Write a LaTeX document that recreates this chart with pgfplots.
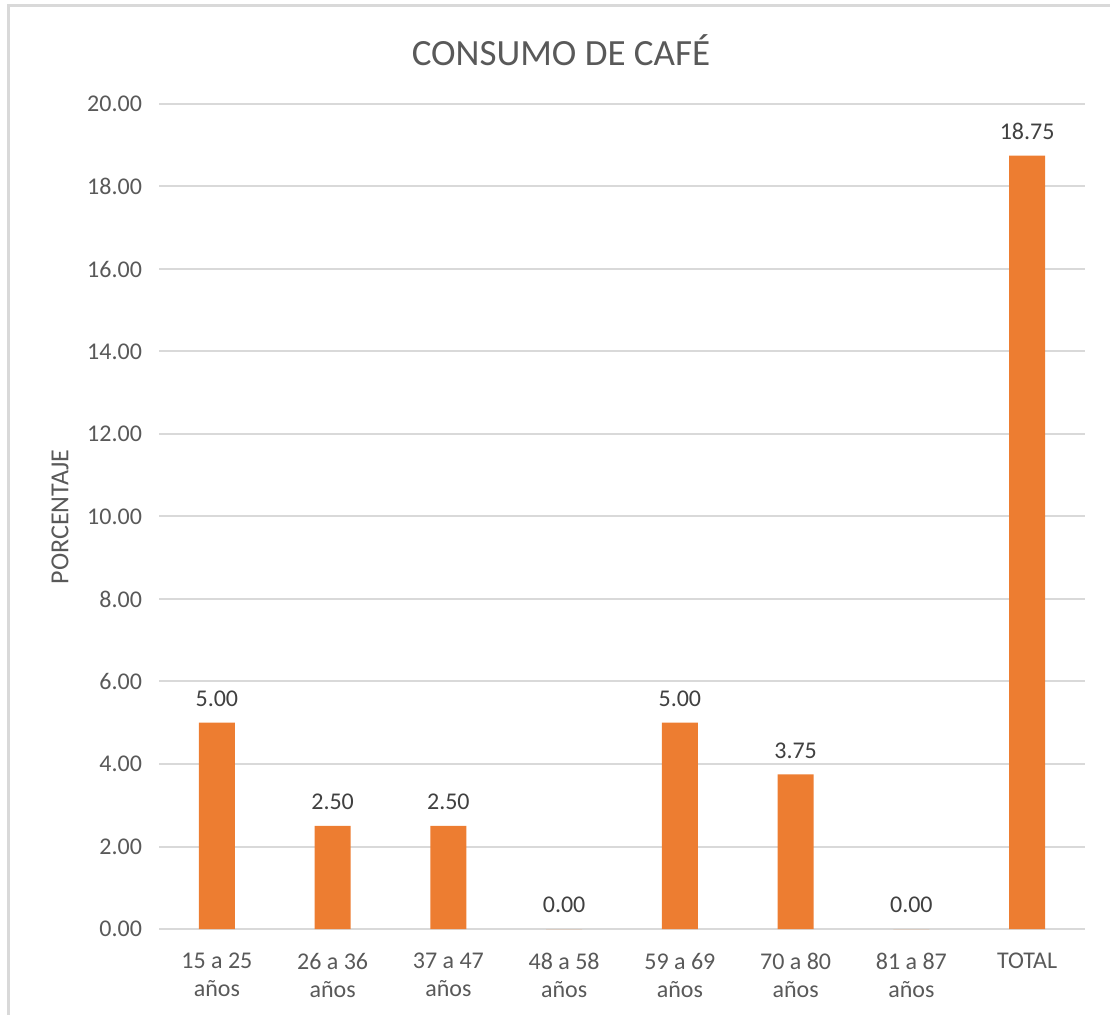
\documentclass[border=0pt]{standalone}
\usepackage{pgfplots}
\pgfplotsset{compat=1.18}
\usepackage{fontspec}
\setmainfont{Carlito}
\definecolor{barc}{RGB}{237,125,49}
\definecolor{gridc}{RGB}{217,217,217}
\definecolor{txt}{RGB}{89,89,89}
\definecolor{dtxt}{RGB}{64,64,64}
\begin{document}
\begin{tikzpicture}[x=0.5pt,y=0.5pt]
\path[use as bounding box] (0,0) rectangle (1110,1014);
\coordinate (O) at (159,85);
\begin{scope}
\clip (0,0) rectangle (1110,1014);
\draw[gridc, line width=1.5pt] (8,-20) rectangle (1140,1008);
\end{scope}
\node[txt, font=\fontsize{18.5}{22}\selectfont] at (561,964) {CONSUMO DE CAFÉ};
\node[txt, font=\fontsize{13}{15}\selectfont, rotate=90] at (60,497) {PORCENTAJE};
\begin{axis}[at={(O)}, anchor=south west, scale only axis,
  width=463pt, height=412.5pt,
  xmin=-0.5, xmax=7.5, ymin=0, ymax=20,
  ytick={0,2,...,20}, xtick={0,...,7},
  xticklabels={{15 a 25\\años},{26 a 36\\años},{37 a 47\\años},{48 a 58\\años},{59 a 69\\años},{70 a 80\\años},{81 a 87\\años},{TOTAL}},
  xticklabel style={align=center, text=txt, font=\fontsize{12}{14}\selectfont, anchor=north, yshift=-8.5pt},
  yticklabel style={text=txt, font=\fontsize{12}{14}\selectfont, xshift=-5pt},
  /pgf/number format/.cd, fixed, fixed zerofill, precision=2, assume math mode=true, /pgfplots/.cd,
  ymajorgrids, grid style={gridc, line width=1pt},
  axis line style={draw=none}, major tick length=0,
  ybar, bar width=18pt, bar shift=0pt,
  nodes near coords,
  nodes near coords style={text=dtxt, font=\fontsize{12}{14}\selectfont, yshift=4.5pt, /pgf/number format/.cd, fixed, fixed zerofill, precision=2, assume math mode=true},
  clip=false,
]
\addplot[fill=barc, draw=none] coordinates {(0,5) (1,2.5) (2,2.5) (3,0) (4,5) (5,3.75) (6,0) (7,18.75)};
\end{axis}
\end{tikzpicture}
\end{document}
